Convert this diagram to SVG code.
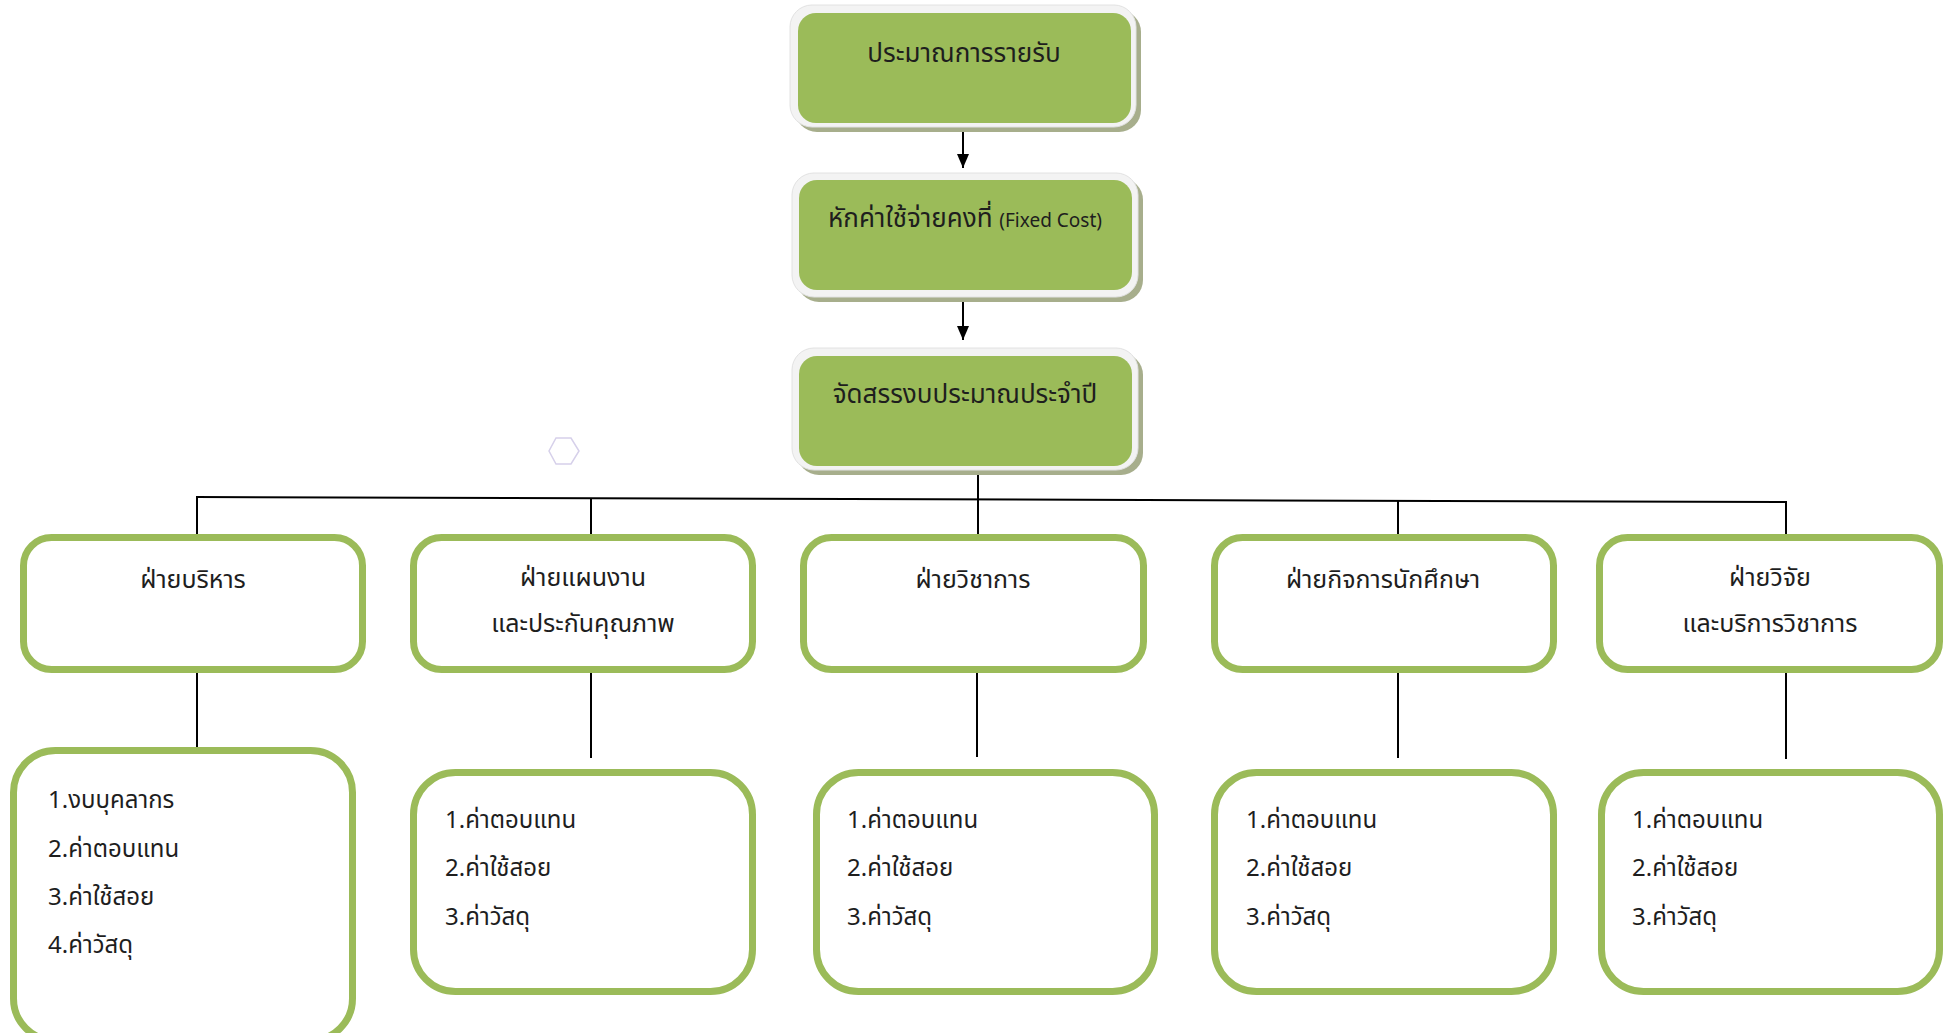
<svg xmlns="http://www.w3.org/2000/svg" width="1948" height="1033" viewBox="0 0 1948 1033">
<defs>
<marker id="arr" markerWidth="14" markerHeight="12" refX="14" refY="6" orient="auto" markerUnits="userSpaceOnUse" viewBox="0 0 14 12">
<path d="M0,0 L14,6 L0,12 Z" fill="#000"/>
</marker>
</defs>
<style>
text{font-family:"Noto Sans Thai","Noto Sans","Tahoma","DejaVu Sans",sans-serif;fill:#1e1e1e;}
.t1{font-size:26px;text-anchor:middle;}
.t2{font-size:25px;text-anchor:middle;}
.t3{font-size:24px;}
.small{font-size:19px;}
.shadow{fill:#a7ae8c;}
.frame{fill:#f3f3f3;stroke:#e2e2e2;stroke-width:1;}
.green{fill:#9bbb59;}
.box{fill:#fff;stroke:#9bbb59;stroke-width:7;}
.line{stroke:#000;stroke-width:2;fill:none;}
</style>
<rect width="1948" height="1033" fill="#fff"/>

<g id="connectors">
<line class="line" x1="963" y1="128" x2="963" y2="168" marker-end="url(#arr)"/>
<line class="line" x1="963" y1="295" x2="963" y2="340" marker-end="url(#arr)"/>
<line class="line" x1="978" y1="466" x2="978" y2="546"/>
<line class="line" x1="196" y1="497" x2="1787" y2="502"/>
<line class="line" x1="197" y1="497" x2="197" y2="546"/>
<line class="line" x1="591" y1="498" x2="591" y2="546"/>
<line class="line" x1="1398" y1="501" x2="1398" y2="550"/>
<line class="line" x1="1786" y1="502" x2="1786" y2="550"/>
<line class="line" x1="197" y1="673" x2="197" y2="759"/>
<line class="line" x1="591" y1="673" x2="591" y2="758"/>
<line class="line" x1="977" y1="673" x2="977" y2="757"/>
<line class="line" x1="1398" y1="673" x2="1398" y2="758"/>
<line class="line" x1="1786" y1="673" x2="1786" y2="759"/>
</g>

<g id="n-income">
<rect class="shadow" x="795" y="10" width="346" height="122" rx="22"/>
<rect class="frame" x="790" y="5" width="346" height="122" rx="22"/>
<rect class="green" x="798" y="13" width="333" height="110" rx="18"/>
<text class="t1" x="964" y="62">ประมาณการรายรับ</text>
</g>

<g id="n-fixed">
<rect class="shadow" x="797" y="178" width="346" height="124" rx="22"/>
<rect class="frame" x="792" y="173" width="346" height="124" rx="22"/>
<rect class="green" x="799" y="180" width="333" height="110" rx="18"/>
<text class="t1" x="965" y="227">หักค่าใช้จ่ายคงที่ <tspan class="small">(Fixed Cost)</tspan></text>
</g>

<g id="n-alloc">
<rect class="shadow" x="797" y="353" width="346" height="122" rx="22"/>
<rect class="frame" x="792" y="348" width="346" height="122" rx="22"/>
<rect class="green" x="799" y="356" width="333" height="110" rx="18"/>
<text class="t1" x="965" y="403">จัดสรรงบประมาณประจำปี</text>
</g>

<g id="hex">
<polygon points="556,438 571,438 579,451 571,464 556,464 549,451" fill="none" stroke="#d6d0ea" stroke-width="1.5"/>
</g>

<g id="d-admin">
<rect class="box" x="23.5" y="537.5" width="339" height="132" rx="28"/>
<text class="t2" x="193" y="588">ฝ่ายบริหาร</text>
</g>
<g id="d-plan">
<rect class="box" x="413.5" y="537.5" width="339" height="132" rx="28"/>
<text class="t2" x="583" y="586">ฝ่ายแผนงาน</text>
<text class="t2" x="583" y="632">และประกันคุณภาพ</text>
</g>
<g id="d-academic">
<rect class="box" x="803.5" y="537.5" width="340" height="132" rx="28"/>
<text class="t2" x="973" y="588">ฝ่ายวิชาการ</text>
</g>
<g id="d-student">
<rect class="box" x="1214.5" y="537.5" width="339" height="132" rx="28"/>
<text class="t2" x="1383" y="588">ฝ่ายกิจการนักศึกษา</text>
</g>
<g id="d-research">
<rect class="box" x="1599.5" y="537.5" width="340" height="132" rx="28"/>
<text class="t2" x="1770" y="586">ฝ่ายวิจัย</text>
<text class="t2" x="1770" y="632">และบริการวิชาการ</text>
</g>

<g id="b-admin">
<rect class="box" x="13.5" y="750.5" width="339" height="290" rx="42"/>
<text class="t3" x="48" y="808">1.งบบุคลากร</text>
<text class="t3" x="48" y="857">2.ค่าตอบแทน</text>
<text class="t3" x="48" y="905">3.ค่าใช้สอย</text>
<text class="t3" x="48" y="953">4.ค่าวัสดุ</text>
</g>
<g id="b-plan">
<rect class="box" x="413.5" y="772.5" width="339" height="219" rx="42"/>
<text class="t3" x="445" y="828">1.ค่าตอบแทน</text>
<text class="t3" x="445" y="876">2.ค่าใช้สอย</text>
<text class="t3" x="445" y="925">3.ค่าวัสดุ</text>
</g>
<g id="b-academic">
<rect class="box" x="816.5" y="772.5" width="338" height="219" rx="42"/>
<text class="t3" x="847" y="828">1.ค่าตอบแทน</text>
<text class="t3" x="847" y="876">2.ค่าใช้สอย</text>
<text class="t3" x="847" y="925">3.ค่าวัสดุ</text>
</g>
<g id="b-student">
<rect class="box" x="1214.5" y="772.5" width="339" height="219" rx="42"/>
<text class="t3" x="1246" y="828">1.ค่าตอบแทน</text>
<text class="t3" x="1246" y="876">2.ค่าใช้สอย</text>
<text class="t3" x="1246" y="925">3.ค่าวัสดุ</text>
</g>
<g id="b-research">
<rect class="box" x="1601.5" y="772.5" width="338" height="219" rx="42"/>
<text class="t3" x="1632" y="828">1.ค่าตอบแทน</text>
<text class="t3" x="1632" y="876">2.ค่าใช้สอย</text>
<text class="t3" x="1632" y="925">3.ค่าวัสดุ</text>
</g>
</svg>
